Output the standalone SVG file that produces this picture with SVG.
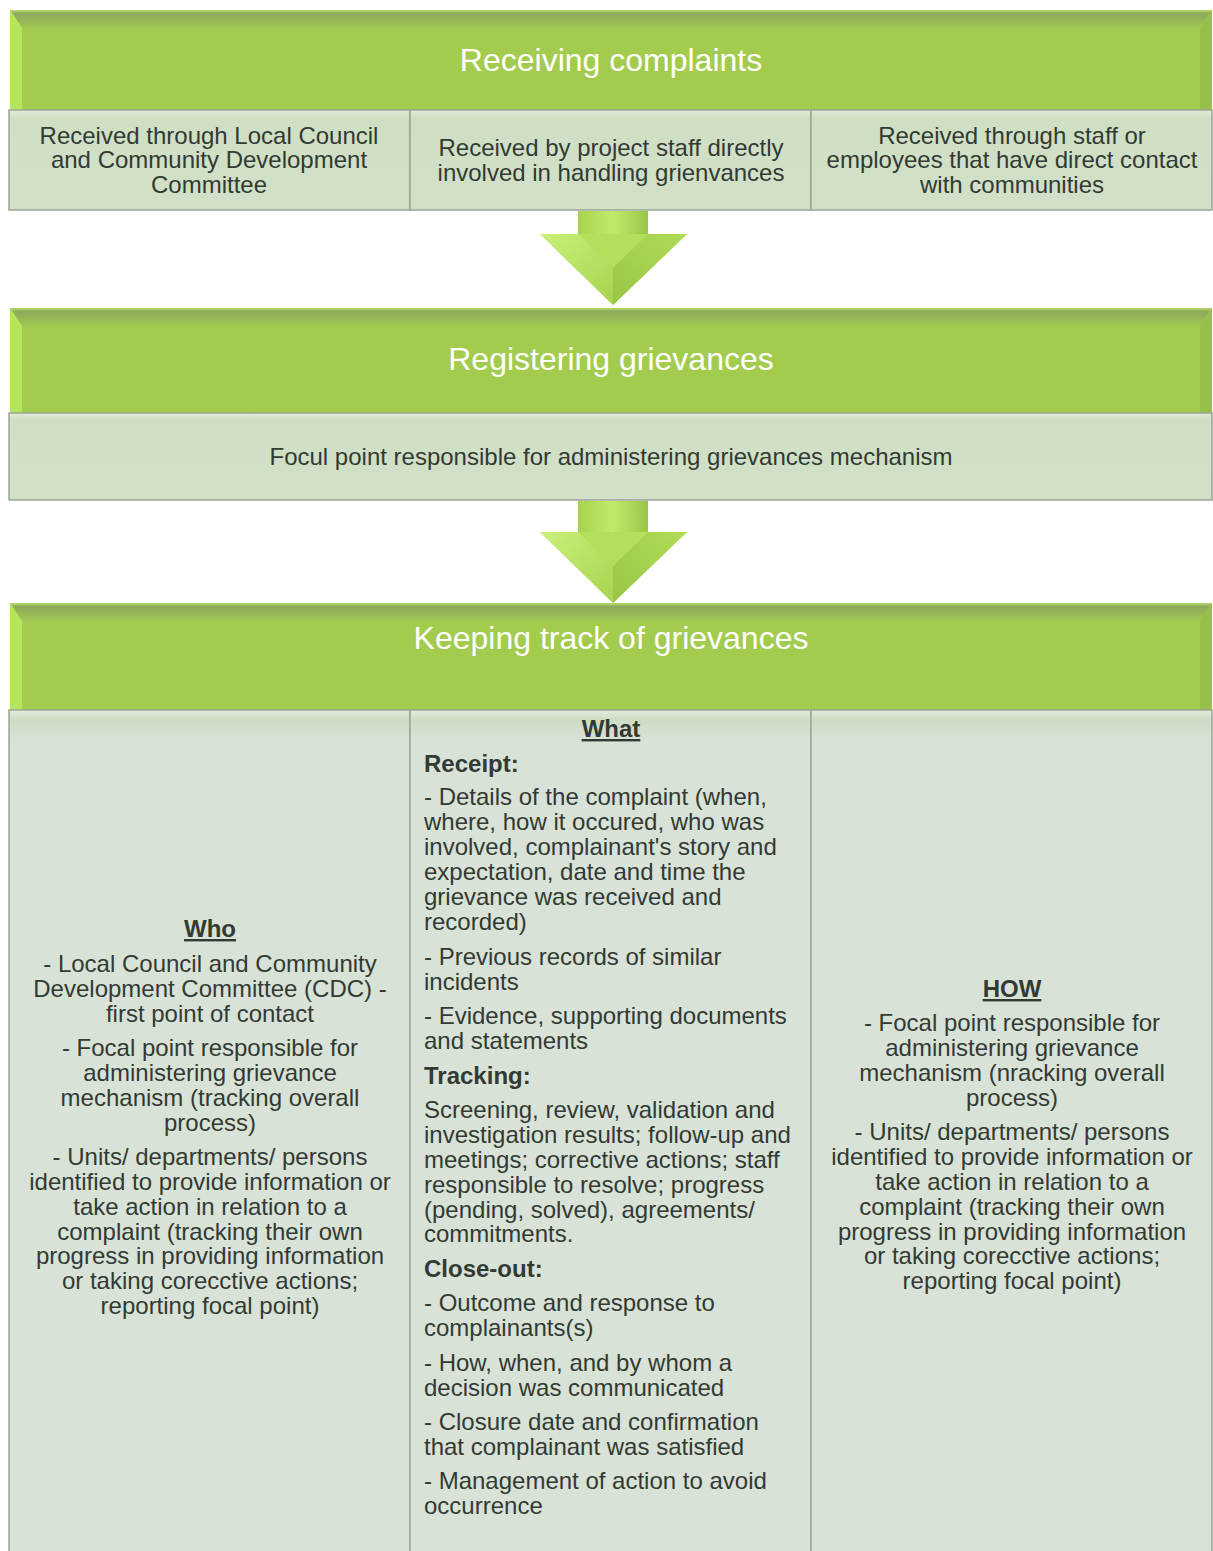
<svg xmlns="http://www.w3.org/2000/svg" width="1213" height="1551" viewBox="0 0 1213 1551">
<defs>
<style>
.t{font-family:"Liberation Sans",Arial,sans-serif;font-size:24px;fill:#333a33}
.c{text-anchor:middle}
.b{font-weight:bold}
.u{font-weight:bold;text-decoration:underline}
.h{font-family:"Liberation Sans",Arial,sans-serif;font-size:32px;fill:#ffffff;text-anchor:middle}
.box{fill:url(#boxg);stroke:#9aa596;stroke-width:1.5}
.col{fill:url(#colg);stroke:#9aa596;stroke-width:1.5}
.hdr{fill:#a3cc4f}
</style>
<linearGradient id="boxg" x1="0" y1="0" x2="0" y2="1">
<stop offset="0" stop-color="#e2ecd9"/>
<stop offset="0.08" stop-color="#cfdfc4"/>
<stop offset="1" stop-color="#d1e0c7"/>
</linearGradient>
<linearGradient id="colg" x1="0" y1="0" x2="0" y2="1">
<stop offset="0" stop-color="#e4ecdd"/>
<stop offset="0.012" stop-color="#cddcc3"/>
<stop offset="0.035" stop-color="#d8e2d6"/>
<stop offset="1" stop-color="#d8e2d6"/>
</linearGradient>
<linearGradient id="topbev" x1="0" y1="0" x2="0" y2="1">
<stop offset="0" stop-color="#b8dc6a"/>
<stop offset="0.2" stop-color="#8ea95c"/>
<stop offset="1" stop-color="#a0c852"/>
</linearGradient>
<linearGradient id="shaft" x1="0" y1="0" x2="1" y2="0">
<stop offset="0" stop-color="#a6d34c"/>
<stop offset="0.5" stop-color="#c2ea6a"/>
<stop offset="1" stop-color="#98c545"/>
</linearGradient>
<linearGradient id="headL" x1="0" y1="0" x2="1" y2="1">
<stop offset="0" stop-color="#c9f07a"/>
<stop offset="1" stop-color="#a7d44f"/>
</linearGradient>
<linearGradient id="headR" x1="1" y1="0" x2="0" y2="1">
<stop offset="0" stop-color="#b0dc58"/>
<stop offset="1" stop-color="#98c644"/>
</linearGradient>
<g id="arrowhead">
<polygon points="540,0 687,0 613,71" fill="#b4df5c"/>
<polygon points="540,0 578,0 613,34 613,71" fill="url(#headL)"/>
<polygon points="687,0 648,0 613,34 613,71" fill="url(#headR)"/>
</g>
</defs>

<g id="header-receiving">
<rect class="hdr" x="10" y="10" width="1202" height="100"/>
<polygon points="10,10 1212,10 1200,28 22,28" fill="url(#topbev)"/>
<polygon points="10,10 22,28 22,110 10,110" fill="#b5e55a"/>
<polygon points="1212,10 1200,28 1200,110 1212,110" fill="#98bf4a"/>
<text class="h" x="611" y="71">Receiving complaints</text>
</g>

<g id="recv-local-council">
<rect class="box" x="9" y="110" width="401" height="100"/>
<text class="t c" x="209" y="144">Received through Local Council</text>
<text class="t c" x="209" y="168">and Community Development</text>
<text class="t c" x="209" y="193">Committee</text>
</g>
<g id="recv-project-staff">
<rect class="box" x="410" y="110" width="401" height="100"/>
<text class="t c" x="611" y="156">Received by project staff directly</text>
<text class="t c" x="611" y="181">involved in handling grienvances</text>
</g>
<g id="recv-staff-employees">
<rect class="box" x="811" y="110" width="401" height="100"/>
<text class="t c" x="1012" y="144">Received through staff or</text>
<text class="t c" x="1012" y="168">employees that have direct contact</text>
<text class="t c" x="1012" y="193">with communities</text>
</g>

<g id="connectors">
<rect x="578" y="211" width="70" height="24" fill="url(#shaft)"/>
<use href="#arrowhead" transform="translate(0,234)"/>
<rect x="578" y="501" width="70" height="32" fill="url(#shaft)"/>
<use href="#arrowhead" transform="translate(0,532)"/>
</g>

<g id="header-registering">
<rect class="hdr" x="10" y="308" width="1202" height="105"/>
<polygon points="10,308 1212,308 1200,326 22,326" fill="url(#topbev)"/>
<polygon points="10,308 22,326 22,413 10,413" fill="#b5e55a"/>
<polygon points="1212,308 1200,326 1200,413 1212,413" fill="#98bf4a"/>
<text class="h" x="611" y="370">Registering grievances</text>
</g>

<g id="focal-point">
<rect class="box" x="9" y="413" width="1203" height="87"/>
<text class="t c" x="611" y="465">Focul point responsible for administering grievances mechanism</text>
</g>

<g id="header-tracking">
<rect class="hdr" x="10" y="603" width="1202" height="107"/>
<polygon points="10,603 1212,603 1200,621 22,621" fill="url(#topbev)"/>
<polygon points="10,603 22,621 22,710 10,710" fill="#b5e55a"/>
<polygon points="1212,603 1200,621 1200,710 1212,710" fill="#98bf4a"/>
<text class="h" x="611" y="649">Keeping track of grievances</text>
</g>

<g id="col-who">
<rect class="col" x="9" y="710" width="401" height="845"/>
<text class="t c u" x="210" y="937">Who</text>
<text class="t c" x="210" y="972">- Local Council and Community</text>
<text class="t c" x="210" y="997">Development Committee (CDC) -</text>
<text class="t c" x="210" y="1022">first point of contact</text>
<text class="t c" x="210" y="1056">- Focal point responsible for</text>
<text class="t c" x="210" y="1081">administering grievance</text>
<text class="t c" x="210" y="1106">mechanism (tracking overall</text>
<text class="t c" x="210" y="1131">process)</text>
<text class="t c" x="210" y="1165">- Units/ departments/ persons</text>
<text class="t c" x="210" y="1190">identified to provide information or</text>
<text class="t c" x="210" y="1215">take action in relation to a</text>
<text class="t c" x="210" y="1240">complaint (tracking their own</text>
<text class="t c" x="210" y="1264">progress in providing information</text>
<text class="t c" x="210" y="1289">or taking corecctive actions;</text>
<text class="t c" x="210" y="1314">reporting focal point)</text>
</g>

<g id="col-what">
<rect class="col" x="410" y="710" width="401" height="845"/>
<text class="t c u" x="611" y="737">What</text>
<text class="t b" x="424" y="772">Receipt:</text>
<text class="t" x="424" y="805">- Details of the complaint (when,</text>
<text class="t" x="424" y="830">where, how it occured, who was</text>
<text class="t" x="424" y="855">involved, complainant's story and</text>
<text class="t" x="424" y="880">expectation, date and time the</text>
<text class="t" x="424" y="905">grievance was received and</text>
<text class="t" x="424" y="930">recorded)</text>
<text class="t" x="424" y="965">- Previous records of similar</text>
<text class="t" x="424" y="990">incidents</text>
<text class="t" x="424" y="1024">- Evidence, supporting documents</text>
<text class="t" x="424" y="1049">and statements</text>
<text class="t b" x="424" y="1084">Tracking:</text>
<text class="t" x="424" y="1118">Screening, review, validation and</text>
<text class="t" x="424" y="1143">investigation results; follow-up and</text>
<text class="t" x="424" y="1168">meetings; corrective actions; staff</text>
<text class="t" x="424" y="1193">responsible to resolve; progress</text>
<text class="t" x="424" y="1218">(pending, solved), agreements/</text>
<text class="t" x="424" y="1242">commitments.</text>
<text class="t b" x="424" y="1277">Close-out:</text>
<text class="t" x="424" y="1311">- Outcome and response to</text>
<text class="t" x="424" y="1336">complainants(s)</text>
<text class="t" x="424" y="1371">- How, when, and by whom a</text>
<text class="t" x="424" y="1396">decision was communicated</text>
<text class="t" x="424" y="1430">- Closure date and confirmation</text>
<text class="t" x="424" y="1455">that complainant was satisfied</text>
<text class="t" x="424" y="1489">- Management of action to avoid</text>
<text class="t" x="424" y="1514">occurrence</text>
</g>

<g id="col-how">
<rect class="col" x="811" y="710" width="401" height="845"/>
<text class="t c u" x="1012" y="997">HOW</text>
<text class="t c" x="1012" y="1031">- Focal point responsible for</text>
<text class="t c" x="1012" y="1056">administering grievance</text>
<text class="t c" x="1012" y="1081">mechanism (nracking overall</text>
<text class="t c" x="1012" y="1106">process)</text>
<text class="t c" x="1012" y="1140">- Units/ departments/ persons</text>
<text class="t c" x="1012" y="1165">identified to provide information or</text>
<text class="t c" x="1012" y="1190">take action in relation to a</text>
<text class="t c" x="1012" y="1215">complaint (tracking their own</text>
<text class="t c" x="1012" y="1240">progress in providing information</text>
<text class="t c" x="1012" y="1264">or taking corecctive actions;</text>
<text class="t c" x="1012" y="1289">reporting focal point)</text>
</g>
</svg>
